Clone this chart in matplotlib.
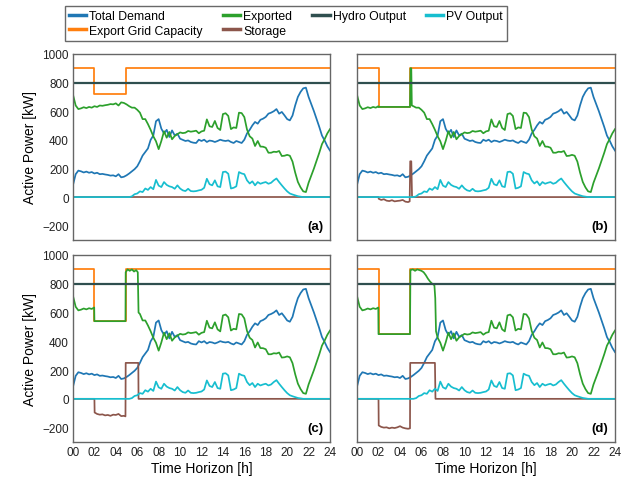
import numpy as np
import matplotlib

matplotlib.use("Agg")
import matplotlib.pyplot as plt

# quarter-hour grid for the shared profiles
HOURS = np.arange(97) * 0.25

DEMAND = [
    85, 160, 185, 180, 172, 178, 170, 175, 165, 170, 160, 162, 158, 155, 150, 152,
    145, 160, 138, 142, 152, 165, 180, 195, 215, 250, 290, 315, 340, 400, 430, 530,
    545, 478, 445, 470, 420, 466, 431, 443, 408, 400, 392, 396, 385, 380, 378, 401,
    392, 401, 385, 395, 392, 385, 392, 401, 395, 392, 396, 385, 378, 392, 385, 378,
    401, 445, 470, 501, 525, 513, 540, 548, 560, 583, 590, 600, 615, 583, 595, 571,
    545, 536, 570, 641, 700, 735, 760, 765, 700, 650, 600, 545, 490, 430, 395, 355,
    325,
]

PV_OUTPUT = [
    0, 0, 0, 0, 0, 0, 0, 0, 0, 0, 0, 0, 0, 0, 0, 0,
    0, 0, 0, 0, 0, 0, 5, 20, 25, 40, 35, 60, 50, 70, 55, 120,
    80, 70, 105, 85, 75, 70, 58, 82, 60, 47, 42, 58, 42, 40, 42, 47,
    51, 65, 128, 90, 82, 117, 75, 70, 175, 178, 163, 60, 65, 75, 175, 165,
    160, 117, 95, 110, 82, 105, 93, 100, 105, 93, 100, 117, 130, 105, 82, 60,
    40, 25, 18, 12, 6, 3, 0, 0, 0, 0, 0, 0, 0, 0, 0, 0,
    0,
]

EXPORTED_BASE = [
    715, 640, 615, 620, 628, 622, 630, 625, 635, 630, 640, 638, 642, 645, 650, 648,
    655, 640, 662, 658, 648, 635, 625, 625, 610, 590, 545, 545, 510, 470, 425, 390,
    335, 392, 460, 415, 455, 404, 427, 439, 452, 447, 450, 462, 457, 460, 464, 446,
    459, 464, 543, 495, 490, 532, 483, 469, 580, 586, 567, 475, 487, 483, 590, 587,
    559, 472, 425, 409, 357, 392, 353, 352, 345, 310, 310, 317, 315, 322, 287, 289,
    295, 289, 248, 171, 106, 68, 40, 35, 100, 150, 200, 255, 310, 370, 405, 445,
    475,
]

HYDRO_TIME = [0, 24]
HYDRO_OUTPUT = [800, 800]

# export grid capacity steps (where="post")
CAP_TIME = [0, 2.0, 4.95, 24]
CAP_A = [900, 720, 900, 900]
CAP_B = [900, 630, 900, 900]
CAP_C = [900, 540, 900, 900]
CAP_D = [900, 450, 900, 900]

# early-morning exported segments that differ between cases
EXP_A_TIME = []
EXP_A = []
EXP_B_TIME = [1.98, 2.0, 4.93, 4.98, 5.05, 5.1]
EXP_B = [635, 630, 630, 900, 900, 640]
EXP_C_TIME = [1.98, 2.0, 4.9, 4.92, 5.1, 5.3, 5.5, 5.7, 5.9, 6.05, 6.12]
EXP_C = [635, 540, 540, 880, 900, 890, 900, 885, 895, 880, 600]
EXP_D_TIME = [1.98, 2.0, 4.93, 4.97, 5.2, 5.4, 5.6, 5.8, 6.0, 6.2, 6.4, 6.6, 6.8,
              7.0, 7.2, 7.28, 7.35]
EXP_D = [635, 450, 450, 895, 900, 890, 900, 895, 890, 880, 860, 835, 815,
         800, 790, 700, 470]

STORAGE_A_TIME = [0, 24]
STORAGE_A = [0, 0]
STORAGE_B_TIME = [0, 2.0, 2.02, 2.25, 2.5, 2.75, 3.0, 3.25, 3.5, 3.75, 4.0, 4.25,
                  4.5, 4.75, 4.9, 4.95, 5.05, 5.12, 24]
STORAGE_B = [0, 0, -12, -20, -15, -25, -28, -22, -30, -27, -25, -20,
             -32, -35, -30, 250, 250, 0, 0]
STORAGE_C_TIME = [0, 2.0, 2.02, 2.25, 2.5, 2.75, 3.0, 3.25, 3.5, 3.75, 4.0, 4.25,
                  4.5, 4.75, 4.9, 4.92, 6.1, 6.12, 24]
STORAGE_C = [0, 0, -95, -105, -110, -108, -115, -112, -118, -110, -112, -105,
             -120, -118, -122, 250, 250, 0, 0]
STORAGE_D_TIME = [0, 2.0, 2.02, 2.25, 2.5, 2.75, 3.0, 3.25, 3.5, 3.75, 4.0, 4.25,
                  4.5, 4.75, 4.93, 4.95, 7.25, 7.3, 24]
STORAGE_D = [0, 0, -185, -195, -200, -198, -205, -200, -203, -198, -190, -200,
             -205, -208, -205, 250, 250, 0, 0]

PANEL_LABELS = ["(a)", "(b)", "(c)", "(d)"]
X_TICKS = list(range(0, 25, 2))
Y_TICKS = [-200, 0, 200, 400, 600, 800, 1000]

COLORS = {
    "demand": "#1f77b4",
    "capacity": "#ff7f0e",
    "exported": "#2ca02c",
    "storage": "#8c564b",
    "hydro": "#2f4f4f",
    "pv": "#17becf",
}


def splice_exported(seg_t, seg_v):
    base_v = np.asarray(EXPORTED_BASE, dtype=float)
    if not seg_t:
        return HOURS, base_v
    before = HOURS < seg_t[0]
    after = HOURS > seg_t[-1]
    t = np.concatenate([HOURS[before], seg_t, HOURS[after]])
    v = np.concatenate([base_v[before], seg_v, base_v[after]])
    return t, v


cases = [
    (CAP_A, EXP_A_TIME, EXP_A, STORAGE_A_TIME, STORAGE_A),
    (CAP_B, EXP_B_TIME, EXP_B, STORAGE_B_TIME, STORAGE_B),
    (CAP_C, EXP_C_TIME, EXP_C, STORAGE_C_TIME, STORAGE_C),
    (CAP_D, EXP_D_TIME, EXP_D, STORAGE_D_TIME, STORAGE_D),
]

plt.rcParams["font.family"] = ["Liberation Sans", "DejaVu Sans"]

fig = plt.figure(figsize=(6.3, 4.81), dpi=100)
W, H = 630, 481
boxes = [
    (73, 55, 330, 241),
    (357, 55, 615, 241),
    (73, 256, 330, 443),
    (357, 256, 615, 443),
]

axes = []
for (x0, y0, x1, y1) in boxes:
    ax = fig.add_axes([x0 / W, 1 - y1 / H, (x1 - x0) / W, (y1 - y0) / H])
    axes.append(ax)

LW = 1.25
handles = {}
for idx, (ax, (cap, et, ev, st, sv)) in enumerate(zip(axes, cases)):
    exp_t, exp_v = splice_exported(et, ev)
    handles["demand"], = ax.plot(HOURS, DEMAND, color=COLORS["demand"], lw=LW,
                                 label="Total Demand")
    handles["capacity"], = ax.step(CAP_TIME, cap, where="post", color=COLORS["capacity"],
                                   lw=LW, label="Export Grid Capacity")
    handles["exported"], = ax.plot(exp_t, exp_v, color=COLORS["exported"], lw=LW,
                                   label="Exported")
    handles["storage"], = ax.plot(st, sv, color=COLORS["storage"], lw=LW,
                                  label="Storage")
    handles["hydro"], = ax.plot(HYDRO_TIME, HYDRO_OUTPUT, color=COLORS["hydro"], lw=1.6,
                                label="Hydro Output")
    handles["pv"], = ax.plot(HOURS, PV_OUTPUT, color=COLORS["pv"], lw=LW,
                             label="PV Output")

    ax.set_xlim(0, 24)
    ax.set_ylim(-300, 1000)
    ax.set_xticks(X_TICKS)
    ax.set_yticks(Y_TICKS)
    ax.tick_params(length=0, labelsize=8.5, pad=3, colors="#222222")
    for spine in ax.spines.values():
        spine.set_color("#666666")
        spine.set_linewidth(1.0)

    ax.text(0.975, 0.045, PANEL_LABELS[idx], transform=ax.transAxes, ha="right",
            va="bottom", fontsize=9.5, fontweight="bold")

    if idx >= 2:
        ax.set_xticklabels([f"{h:02d}" for h in X_TICKS])
        ax.set_xlabel("Time Horizon [h]", fontsize=10, labelpad=2)
    else:
        ax.set_xticklabels([])
    if idx % 2 == 0:
        ax.set_yticklabels([f"{v}".replace("-", "\u2212") for v in Y_TICKS])
        ax.set_ylabel("Active Power [kW]", fontsize=10, labelpad=4)
    else:
        ax.set_yticklabels([])

order = ["demand", "capacity", "exported", "storage", "hydro", "pv"]
leg = fig.legend(
    [handles[k] for k in order],
    [handles[k].get_label() for k in order],
    loc="upper left",
    bbox_to_anchor=(65 / W, 1 - 7 / H),
    borderaxespad=0.0,
    ncol=4,
    fontsize=8.8,
    frameon=True,
    fancybox=False,
    handlelength=1.4,
    handletextpad=0.25,
    columnspacing=1.65,
    labelspacing=0.2,
    borderpad=0.35,
)
leg.get_frame().set_edgecolor("#444444")
leg.get_frame().set_linewidth(1.0)
for line in leg.get_lines():
    line.set_linewidth(2.5)

fig.savefig("out.png", dpi=100)
